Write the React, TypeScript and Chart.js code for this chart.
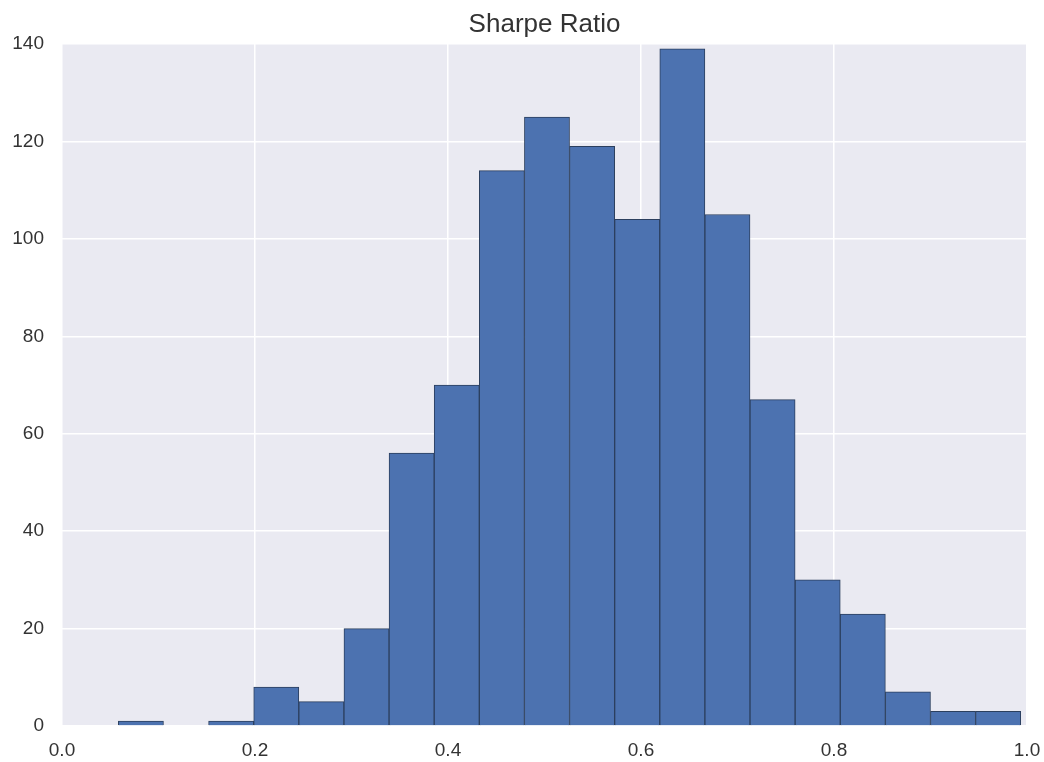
import React, { useEffect, useRef } from "react";
import { Chart, registerables } from "chart.js";

Chart.register(...registerables);

// Histogram of Sharpe ratios (20 bins)
const binStart = 0.0584;
const binEnd = 0.9935;
const counts = [1, 0, 1, 8, 5, 20, 56, 70, 114, 125, 119, 104, 139, 105, 67, 30, 23, 7, 3, 3];
const xTicks = [0.0, 0.2, 0.4, 0.6, 0.8, 1.0];
const yTicks = [0, 20, 40, 60, 80, 100, 120, 140];
const title = "Sharpe Ratio";

const binWidth = (binEnd - binStart) / counts.length;
const points = counts.map((c, i) => ({ x: binStart + (i + 0.5) * binWidth, y: c }));

const bgPlugin = {
  id: "bgPlugin",
  beforeDraw(chart: any) {
    const { ctx, chartArea } = chart;
    ctx.save();
    ctx.fillStyle = "#EAEAF2";
    ctx.fillRect(chartArea.left, chartArea.top, chartArea.right - chartArea.left, chartArea.bottom - chartArea.top);
    ctx.restore();
  },
};

const FONT = "Liberation Sans, Arial, sans-serif";

export default function App() {
  const ref = useRef<HTMLCanvasElement | null>(null);
  useEffect(() => {
    document.body.style.margin = "0";
    const canvas = ref.current!;
    const chart = new Chart(canvas, {
      type: "bar",
      data: {
        datasets: [
          {
            data: points as any,
            backgroundColor: "#4C72B0",
            borderColor: "#2B3F5E",
            borderWidth: 1,
            barPercentage: 1,
            categoryPercentage: 1,
          },
        ],
      },
      options: {
        animation: false,
        responsive: false,
        layout: { padding: { left: 0, right: 17, top: 0, bottom: 0 } },
        plugins: {
          legend: { display: false },
          tooltip: { enabled: false },
          title: {
            display: true,
            fullSize: false,
            text: title,
            color: "#333333",
            font: { family: FONT, size: 26, weight: "normal" as any, lineHeight: 1 },
            padding: { top: 12, bottom: 6 },
          },
        },
        scales: {
          x: {
            type: "linear",
            min: 0,
            max: 1,
            offset: false,
            afterBuildTicks(scale: any) {
              scale.ticks = xTicks.map((v) => ({ value: v }));
            },
            afterFit(scale: any) {
              scale.height = 36;
              scale.paddingLeft = 0;
              scale.paddingRight = 0;
            },
            ticks: {
              padding: 13,
              color: "#333333",
              font: { family: FONT, size: 19 },
              maxRotation: 0,
              callback: (v: any) => Number(v).toFixed(1),
            },
            grid: { color: "#FFFFFF", lineWidth: 1.5, drawTicks: false, offset: false },
            border: { display: false },
          },
          y: {
            min: 0,
            max: 140,
            afterBuildTicks(scale: any) {
              scale.ticks = yTicks.map((v) => ({ value: v }));
            },
            afterFit(scale: any) {
              scale.width = 62;
              scale.paddingTop = 0;
              scale.paddingBottom = 0;
            },
            ticks: {
              padding: 18,
              color: "#333333",
              font: { family: FONT, size: 19 },
              callback: (v: any) => String(v),
            },
            grid: { color: "#FFFFFF", lineWidth: 1.5, drawTicks: false },
            border: { display: false },
          },
        },
      },
      plugins: [bgPlugin],
    });
    return () => chart.destroy();
  }, []);
  return (
    <div style={{ width: 1044, height: 762, background: "#FFFFFF" }}>
      <canvas ref={ref} width={1044} height={762} style={{ display: "block" }} />
    </div>
  );
}
